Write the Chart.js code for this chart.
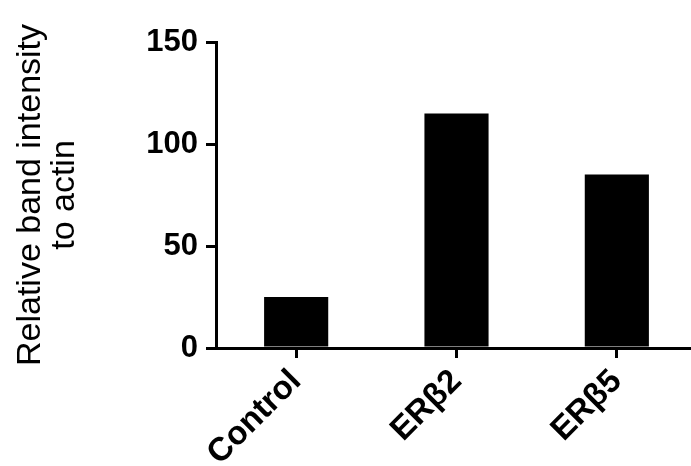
<!DOCTYPE html>
<html>
<head>
<meta charset="utf-8">
<script src="https://cdn.jsdelivr.net/npm/chart.js@4"></script>
<style>
  html, body { margin: 0; padding: 0; background: #fff; overflow: hidden; }
  #wrap { width: 697px; height: 466px; }
</style>
</head>
<body>
<div id="wrap"><canvas id="chart-bands"></canvas></div>
<script>
const categories = ['Control', 'ERβ2', 'ERβ5'];
const intensity  = [25, 115, 85];
const yTicks     = [0, 50, 100, 150];
const yTitle     = ['Relative band intensity', 'to actin'];

document.addEventListener('DOMContentLoaded', () => {
  const el = document.getElementById('chart-bands');
  const font = '"Liberation Sans", Arial, Helvetica, sans-serif';

  new Chart(el.getContext('2d'), {
    type: 'bar',
    data: {
      labels: categories,
      datasets: [
        { data: intensity, backgroundColor: '#000', borderColor: '#000', borderWidth: 0,
          barPercentage: 0.4, categoryPercentage: 1 }
      ]
    },
    options: {
      responsive: true,
      maintainAspectRatio: false,
      animation: false,
      layout: { padding: { top: 42, right: 0, bottom: 0, left: 0 } },
      plugins: { legend: { display: false }, tooltip: { enabled: false } },
      scales: {
        x: {
          grid: { offset: false, drawOnChartArea: false, drawTicks: true, tickLength: 10, color: '#000', lineWidth: 3 },
          border: { display: true, color: '#000', width: 3 },
          ticks: { color: '#000', minRotation: 45, maxRotation: 45, padding: 4,
                   font: { family: font, size: 33, weight: 'bold' } },
          afterFit: s => { s.height = 118; }
        },
        y: {
          min: 0, max: 150,
          afterBuildTicks: s => { s.ticks = yTicks.map(v => ({ value: v })); },
          grid: { drawOnChartArea: false, drawTicks: true, tickLength: 10, color: '#000', lineWidth: 3 },
          border: { display: true, color: '#000', width: 3 },
          ticks: { color: '#000', padding: 8, font: { family: font, size: 31, weight: 'bold' } },
          title: { display: true, text: yTitle, color: '#000', padding: { top: 13, bottom: 0 },
                   font: { family: font, size: 34, lineHeight: 1.02 } },
          afterFit: s => { s.width = 216; }
        }
      }
    }
  });
});
</script>
</body>
</html>
